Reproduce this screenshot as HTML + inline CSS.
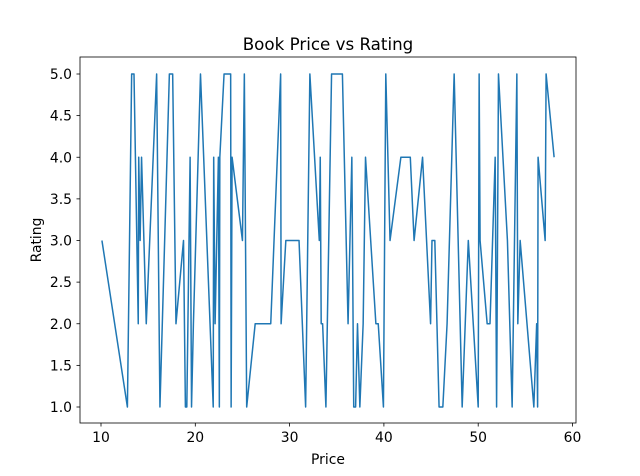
<!DOCTYPE html>
<html><head><meta charset="utf-8"><style>
html,body{margin:0;padding:0;background:#fff;}
svg{display:block;font-family:"DejaVu Sans","Liberation Sans",sans-serif;}
</style></head><body>
<svg id="chart" width="640" height="476" viewBox="0 0 640 476">
<rect x="0" y="0" width="640" height="476" fill="#fff"/>
<text x="328" y="50" text-anchor="middle" font-size="16.7" fill="#000">Book Price vs Rating</text>
<g id="marks"></g>
<g id="xticks"></g>
<g id="yticks"></g>
<rect x="80" y="57" width="496" height="366" fill="none" stroke="#000" stroke-width="0.8"/>
<text x="328" y="464" text-anchor="middle" font-size="13.9" fill="#000">Price</text>
<text x="0" y="0" transform="translate(41,240) rotate(-90)" text-anchor="middle" font-size="13.9" fill="#000">Rating</text>
</svg>
<script>
const prices = [10.1,12.8,13.25,13.5,13.95,14.0,14.15,14.3,14.8,15.9,16.25,17.25,17.6,17.95,18.75,18.95,19.1,19.45,19.6,19.8,20.55,21.9,21.95,22.1,22.45,22.55,22.6,23.05,23.75,23.8,23.9,25.0,25.2,25.45,26.35,28.0,29.05,29.1,29.6,31.0,31.7,32.15,33.15,33.25,33.35,33.5,33.85,34.45,35.6,36.2,36.6,36.8,37.0,37.2,37.45,37.8,38.05,39.15,39.4,39.95,40.2,40.65,41.8,42.8,43.2,44.1,44.95,45.1,45.4,45.85,46.25,46.7,47.45,48.3,48.95,50.0,50.1,50.2,50.95,51.25,51.8,51.95,52.15,53.1,53.6,54.1,54.2,54.45,55.9,56.2,56.3,56.35,57.1,57.2,58.05];
const ratings = [3,1,5,5,2,4,3,4,2,5,1,5,5,2,3,1,1,4,1,2,5,1,4,2,4,1,4,5,5,1,4,3,5,1,2,2,5,2,3,3,1,5,3,4,2,2,1,5,5,2,4,1,1,2,1,2,4,2,2,1,5,3,4,4,3,4,2,3,3,1,1,2,5,1,3,1,5,3,2,2,4,1,5,3,1,5,2,3,1,2,1,4,3,5,4];
const xTicks = [10,20,30,40,50,60];
const yTicks = [1.0,1.5,2.0,2.5,3.0,3.5,4.0,4.5,5.0];
const NS = "http://www.w3.org/2000/svg";
function xs(v){ return 101 + (v - 10) * 9.43; }
function ys(v){ return 407 - (v - 1) * 83.25; }
const marks = document.getElementById('marks');
const line = document.createElementNS(NS,'polyline');
line.setAttribute('points', prices.map((p,i)=>xs(p).toFixed(2)+','+ys(ratings[i]).toFixed(2)).join(' '));
line.setAttribute('fill','none');
line.setAttribute('stroke','#1f77b4');
line.setAttribute('stroke-width','1.5');
line.setAttribute('stroke-linejoin','round');


marks.appendChild(line);
const xg = document.getElementById('xticks');
xTicks.forEach(t=>{
  const x = xs(t);
  const l = document.createElementNS(NS,'line');
  l.setAttribute('x1',x);l.setAttribute('x2',x);l.setAttribute('y1',423);l.setAttribute('y2',426.5);
  l.setAttribute('stroke','#000');l.setAttribute('stroke-width','0.8');
  
  
  xg.appendChild(l);
  const tx = document.createElementNS(NS,'text');
  tx.setAttribute('x',x);tx.setAttribute('y',442);tx.setAttribute('text-anchor','middle');tx.setAttribute('font-size','13.9');
  tx.textContent = t;
  
  
  xg.appendChild(tx);
});
const yg = document.getElementById('yticks');
yTicks.forEach(t=>{
  const y = ys(t);
  const l = document.createElementNS(NS,'line');
  l.setAttribute('x1',76.5);l.setAttribute('x2',80);l.setAttribute('y1',y);l.setAttribute('y2',y);
  l.setAttribute('stroke','#000');l.setAttribute('stroke-width','0.8');
  
  
  yg.appendChild(l);
  const tx = document.createElementNS(NS,'text');
  tx.setAttribute('x',72);tx.setAttribute('y',y+5);tx.setAttribute('text-anchor','end');tx.setAttribute('font-size','13.9');
  tx.textContent = t.toFixed(1);
  
  
  yg.appendChild(tx);
});
</script>
</body></html>
